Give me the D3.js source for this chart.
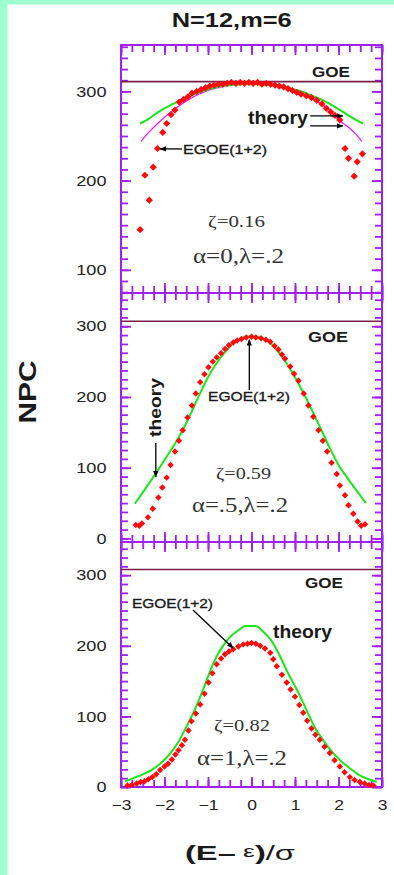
<!DOCTYPE html>
<html>
<head>
<meta charset="utf-8">
<script src="https://cdn.jsdelivr.net/npm/d3@7"></script>
<style>
  body { margin: 0; background: #fff; }
  svg { display: block; }
</style>
</head>
<body>
<svg id="chart" width="394" height="875"></svg>
<script>
// ---- values ----
const goeLevel = [311, 307, 308];
const xTicks = [-3, -2, -1, 0, 1, 2, 3];
const yTicks = [[100, 200, 300], [0, 100, 200, 300], [0, 100, 200, 300]];
const zetaText = ["ζ=0.16", "ζ=0.59", "ζ=0.82"];
const paramText = ["α=0,λ=.2", "α=.5,λ=.2", "α=1,λ=.2"];

// panel 1 (alpha = 0)
const egoe1 = [[-2.56,145],[-2.45,206],[-2.35,178],[-2.26,215],[-2.16,236],[-2.04,254],[-1.95,264],[-1.85,274],[-1.76,279],[-1.66,288],[-1.56,291],[-1.46,294],[-1.37,298],[-1.26,300],[-1.16,302],[-1.06,304],[-0.96,306],[-0.86,307],[-0.76,308],[-0.66,308],[-0.56,309],[-0.46,310],[-0.36,309],[-0.26,310],[-0.16,309],[-0.06,310],[0.04,309],[0.14,310],[0.24,308],[0.34,309],[0.44,308],[0.54,307],[0.64,306],[0.74,305],[0.84,303],[0.94,301],[1.04,299],[1.14,297],[1.26,295],[1.38,293],[1.5,290],[1.62,286],[1.72,281],[1.82,277],[1.92,273],[2.03,268],[2.15,236],[2.23,225],[2.36,205],[2.43,221],[2.55,230]];
const theory1 = [[-2.56,264],[-2.4,268],[-2.2,275],[-2.0,281],[-1.8,286],[-1.6,291],[-1.4,295],[-1.2,299],[-1.0,302],[-0.8,305],[-0.6,306.5],[-0.4,307.5],[-0.2,308],[0,308],[0.2,308],[0.4,307.5],[0.6,306.5],[0.8,305],[1.0,302],[1.2,299],[1.4,295],[1.6,291],[1.8,286],[2.0,280],[2.2,274],[2.4,268],[2.56,264]];
const theory1b = [[-2.54,244],[-2.4,252],[-2.2,262],[-2.0,271],[-1.8,279],[-1.6,286],[-1.4,292],[-1.2,297],[-1.0,301],[-0.8,304],[-0.6,306],[-0.4,307.5],[-0.2,308],[0,308.5],[0.2,308],[0.4,307.5],[0.6,306],[0.8,304],[1.0,301],[1.2,297],[1.4,292],[1.6,286],[1.8,279],[2.0,268],[2.2,261],[2.4,252],[2.53,244]];

// panel 2 (alpha = .5)
const egoe2 = [[-2.66,19],[-2.58,18],[-2.52,21],[-2.38,30],[-2.27,42],[-2.14,58],[-2.05,72],[-1.95,86],[-1.86,104],[-1.76,123],[-1.67,138],[-1.58,153],[-1.47,171],[-1.37,188],[-1.28,205],[-1.18,221],[-1.08,232],[-0.99,242],[-0.89,250],[-0.80,256],[-0.70,262],[-0.61,268],[-0.52,273],[-0.42,277],[-0.33,280],[-0.23,282],[-0.12,284],[0,285],[0.1,284],[0.22,283],[0.33,281],[0.43,278],[0.53,272],[0.62,267],[0.70,260],[0.77,254],[0.89,243],[0.98,233],[1.08,223],[1.2,205],[1.31,188],[1.42,172],[1.54,153],[1.64,138],[1.74,123],[1.84,107],[1.96,91],[2.03,75],[2.15,61],[2.23,47],[2.34,35],[2.44,24],[2.52,18],[2.61,20]];
const theory2 = [[-2.68,49],[-2.4,74],[-2.2,92],[-2.0,111],[-1.8,130],[-1.6,151],[-1.4,176],[-1.2,203],[-1.0,228],[-0.8,248],[-0.6,264],[-0.4,277],[-0.2,284],[0,286],[0.2,284],[0.4,278],[0.6,265],[0.8,248],[1.0,228],[1.2,205],[1.4,180],[1.6,154],[1.8,128],[2.0,104],[2.2,86],[2.4,69],[2.63,50]];

// panel 3 (alpha = 1)
const egoe3 = [[-2.85,2],[-2.75,3],[-2.64,5],[-2.55,7],[-2.46,8],[-2.37,11],[-2.28,14],[-2.19,18],[-2.1,24],[-2.0,29],[-1.92,33],[-1.83,39],[-1.75,46],[-1.68,52],[-1.6,59],[-1.53,67],[-1.45,80],[-1.38,93],[-1.28,104],[-1.18,117],[-1.08,132],[-0.99,148],[-0.9,161],[-0.8,174],[-0.7,182],[-0.61,188],[-0.52,192],[-0.42,195],[-0.3,199],[-0.19,202],[-0.09,203],[0,204],[0.1,203],[0.2,200],[0.31,196],[0.43,190],[0.5,181],[0.58,171],[0.7,159],[0.81,148],[0.9,138],[1.0,128],[1.1,116],[1.19,105],[1.28,94],[1.38,83],[1.47,74],[1.57,67],[1.68,57],[1.8,48],[1.91,38],[2.03,29],[2.14,21],[2.26,14],[2.37,10],[2.49,7],[2.6,5],[2.7,3],[2.8,2]];
const theory3 = [[-2.91,8],[-2.7,13],[-2.5,18],[-2.3,24],[-2.1,33],[-1.9,45],[-1.7,62],[-1.5,85],[-1.3,110],[-1.1,140],[-0.9,172],[-0.7,196],[-0.5,212],[-0.3,222],[-0.15,228],[0.1,228],[0.25,221],[0.45,208],[0.65,186],[0.85,160],[1.05,137],[1.25,111],[1.45,85],[1.65,66],[1.85,50],[2.05,37],[2.25,27],[2.45,18],[2.65,12],[2.88,7]];

// arrows, in data units of each panel
const arrows1 = [[[1.35,272.5],[2.10,272.5]], [[1.35,261.3],[2.10,261.3]], [[-1.6,235.5],[-2.1,235.5]]];
const arrows2 = [[[-2.2,135],[-2.2,87]], [[-0.05,210],[-0.05,281]]];
const arrows3 = [[[-1.345,250.7],[-0.425,196.9]]];

// ---- layout ----
const W = 394, H = 875;
const left = 121, right = 382;
const tops = [45, 293, 542], bots = [293, 542, 787];
const yDomains = [[74, 352], [-5, 347], [0, 347]];
const purple = "#a020f0", goeColor = "#7a1f48", green = "#18e818", magenta = "#ff10ff";
const sans = "'Liberation Sans', Arial, Helvetica, sans-serif";
const serif = "'Liberation Serif', 'Times New Roman', serif";

const svg = d3.select("#chart");
svg.append("rect").attr("width", W).attr("height", H).attr("fill", "#fff");
svg.append("rect").attr("width", W).attr("height", 4.5).attr("fill", "#9fffd0");
svg.append("rect").attr("width", 7.5).attr("height", H).attr("fill", "#9fffd0");

const defs = svg.append("defs");
defs.append("marker").attr("id", "ah")
  .attr("viewBox", "0 0 10 10").attr("refX", 9).attr("refY", 5)
  .attr("markerWidth", 5).attr("markerHeight", 5).attr("orient", "auto")
  .append("path").attr("d", "M0,1L10,5L0,9z").attr("fill", "#000");

const x = d3.scaleLinear().domain([-3, 3]).range([left, right]);
const minorX = d3.range(-3, 3.001, 0.25);

function label(str, px, py, o) {
  const t = svg.append("text")
    .attr("x", px).attr("y", py)
    .attr("text-anchor", o.anchor || "start")
    .attr("font-family", o.serif ? serif : sans)
    .attr("font-size", o.size)
    .attr("font-weight", o.bold ? "bold" : "normal")
    .attr("fill", o.color || "#1a1a1a")
    .text(str);
  if (o.w) t.attr("textLength", o.w).attr("lengthAdjust", "spacingAndGlyphs");
  if (o.thick) t.attr("stroke", "#1a1a1a").attr("stroke-width", o.thick);
  if (o.rotate) t.attr("transform", `rotate(-90 ${px} ${py})`);
  return t;
}

function drawPanel(i, egoe, lines, arrows) {
  const top = tops[i], bot = bots[i];
  const y = d3.scaleLinear().domain(yDomains[i]).range([bot, top]);
  const g = svg.append("g");
  const minorY = d3.range(0, yDomains[i][1], 12.5).filter(v => v >= yDomains[i][0]);

  const addAxis = (axis, tr) => {
    const a = g.append("g").attr("transform", tr).call(axis);
    a.select(".domain").remove();
    a.selectAll("line").attr("stroke", purple).attr("stroke-width", 1.8);
    return a;
  };
  addAxis(d3.axisLeft(y).tickValues(minorY).tickSize(-7).tickFormat(""), `translate(${left},0)`);
  const yl = addAxis(d3.axisLeft(y).tickValues(yTicks[i]).tickSize(-10).tickFormat(d3.format("d")), `translate(${left},0)`);
  yl.selectAll("text")
    .attr("x", -14.5 / 1.25).attr("transform", "scale(1.25,1)")
    .attr("font-family", sans).attr("font-size", 14.5).attr("fill", "#222");
  addAxis(d3.axisRight(y).tickValues(minorY).tickSize(-7).tickFormat(""), `translate(${right},0)`);
  addAxis(d3.axisRight(y).tickValues(yTicks[i]).tickSize(-10).tickFormat(""), `translate(${right},0)`);
  addAxis(d3.axisTop(x).tickValues(minorX).tickSize(-7).tickFormat(""), `translate(0,${top})`);
  addAxis(d3.axisTop(x).tickValues(xTicks).tickSize(-10).tickFormat(""), `translate(0,${top})`);
  addAxis(d3.axisBottom(x).tickValues(minorX).tickSize(-7).tickFormat(""), `translate(0,${bot})`);
  const xb = addAxis(d3.axisBottom(x).tickValues(xTicks).tickSize(-10)
    .tickFormat(i === 2 ? d3.format("d") : ""), `translate(0,${bot})`);
  if (i === 2) {
    xb.selectAll("text")
      .attr("y", 13.5).attr("transform", "scale(1.25,1)")
      .attr("font-family", sans).attr("font-size", 14).attr("fill", "#222");
  }

  g.append("rect").attr("x", left).attr("y", top)
    .attr("width", right - left).attr("height", bot - top)
    .attr("fill", "none").attr("stroke", purple).attr("stroke-width", 2);

  g.append("line").attr("x1", left).attr("x2", right)
    .attr("y1", y(goeLevel[i])).attr("y2", y(goeLevel[i]))
    .attr("stroke", goeColor).attr("stroke-width", 1.6);

  const line = d3.line().x(d => x(d[0])).y(d => y(d[1])).curve(d3.curveMonotoneX);
  lines.forEach(l => {
    g.append("path").datum(l.data).attr("d", line)
      .attr("fill", "none").attr("stroke", l.color).attr("stroke-width", l.width);
  });

  g.selectAll("path.pt").data(egoe).join("path").attr("class", "pt")
    .attr("d", d3.symbol(d3.symbolSquare, i === 0 ? 26 : 21))
    .attr("transform", d => `translate(${x(d[0])},${y(d[1])}) rotate(45)`)
    .attr("fill", "#ff0a0a");

  arrows.forEach(a => {
    g.append("line")
      .attr("x1", x(a[0][0])).attr("y1", y(a[0][1]))
      .attr("x2", x(a[1][0])).attr("y2", y(a[1][1]))
      .attr("stroke", "#000").attr("stroke-width", 1.3)
      .attr("marker-end", "url(#ah)");
  });
}

drawPanel(0, egoe1, [
  { data: theory1b, color: magenta, width: 1.2 },
  { data: theory1, color: green, width: 2 }
], arrows1);
drawPanel(1, egoe2, [{ data: theory2, color: green, width: 2 }], arrows2);
drawPanel(2, egoe3, [{ data: theory3, color: green, width: 2 }], arrows3);

// ---- texts ----
label("N=12,m=6", 171.7, 26.7, { size: 20, bold: true, w: 120 });
label("NPC", 36, 392, { size: 24, bold: true, w: 63, anchor: "middle", rotate: true });

const xl = svg.append("text").attr("x", 185).attr("y", 860)
  .attr("font-family", sans).attr("font-size", 21).attr("fill", "#1a1a1a")
  .attr("textLength", 110).attr("lengthAdjust", "spacingAndGlyphs");
xl.append("tspan").attr("font-weight", "bold").text("(E–");
xl.append("tspan").attr("font-size", 17).attr("dy", -3).text("  ε");
xl.append("tspan").attr("font-weight", "bold").attr("dy", 3).text(")");
xl.append("tspan").text("/σ");

label("GOE", 312, 77, { size: 15, bold: true, w: 38 });
label("GOE", 308, 341.5, { size: 15, bold: true, w: 40 });
label("GOE", 305, 588, { size: 15, bold: true, w: 38 });

label("theory", 248, 124, { size: 18, bold: true, w: 60 });
label("theory", 161, 407.5, { size: 17, bold: true, w: 59, anchor: "middle", rotate: true });
label("theory", 273, 638.3, { size: 18, bold: true, w: 59 });

label("EGOE(1+2)", 183, 154, { size: 13.5, w: 84, thick: 0.35 });
label("EGOE(1+2)", 208, 400.7, { size: 13.5, w: 82, thick: 0.35 });
label("EGOE(1+2)", 132, 608, { size: 13.5, w: 81, thick: 0.35 });

label(zetaText[0], 208, 227.3, { size: 17, serif: true, w: 57, color: "#333" });
label(paramText[0], 193, 262.7, { size: 21, serif: true, w: 91, color: "#333" });
label(zetaText[1], 216, 479.3, { size: 17, serif: true, w: 55, color: "#333" });
label(paramText[1], 192, 511.7, { size: 21, serif: true, w: 96, color: "#333" });
label(zetaText[2], 214, 730.7, { size: 17, serif: true, w: 56, color: "#333" });
label(paramText[2], 197, 765, { size: 21, serif: true, w: 90, color: "#333" });
</script>
</body>
</html>
